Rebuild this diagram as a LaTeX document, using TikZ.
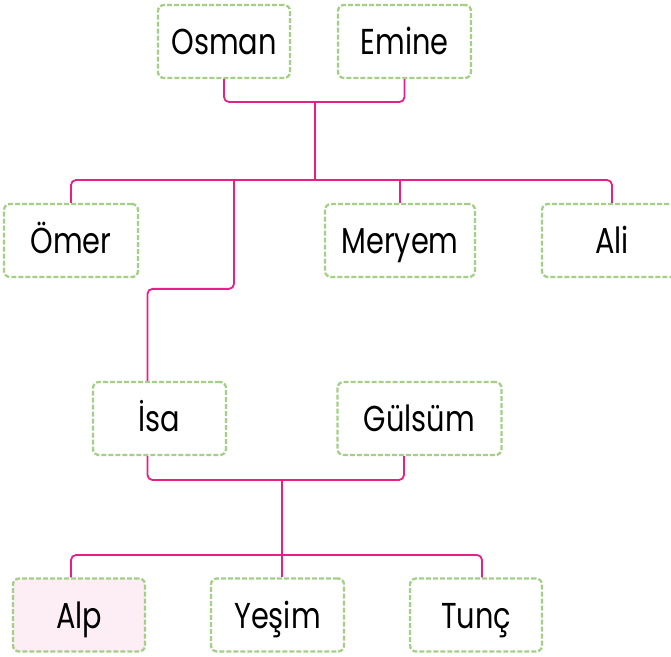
\documentclass[tikz,border=0pt]{standalone}
\usepackage{fontspec}
\setmainfont[FakeStretch=0.8]{Poppins}
\usepackage{tikz}
\usetikzlibrary{positioning}
\definecolor{linkpink}{RGB}{231,32,135}
\definecolor{boxgreen}{RGB}{165,206,135}
\definecolor{alpfill}{RGB}{253,237,245}
\tikzset{
  person/.style={draw=boxgreen, line width=2.3pt, dash pattern=on 5pt off 2pt,
    rounded corners=6pt, minimum height=73pt, inner sep=0pt,
    font=\fontsize{36}{40}\selectfont, text height=26pt, text depth=0pt},
  link/.style={draw=linkpink, line width=1.8pt, rounded corners=5pt}
}
\begin{document}
\begin{tikzpicture}[x=1pt,y=-1pt]
  \useasboundingbox (0,0) rectangle (671,656);
  \foreach \name/\x/\y/\w/\fc/\txt in {osman/224/41.5/132/white/Osman,
      emine/404.5/41.5/133/white/Emine,
      omer/71/240.5/134/white/Ömer, meryem/400/240.5/150/white/Meryem,
      ali/612/240.5/140/white/Ali,
      isa/159.5/418.5/133/white/İsa, gulsum/419.5/418.5/164/white/Gülsüm,
      alp/79/615/132/alpfill/Alp, yesim/277.5/615/133/white/Yeşim,
      tunc/476/615/132/white/Tunç}
    \node[person, minimum width=\w pt, fill=\fc] (\name) at (\x,\y) {\txt};
  \coordinate (top) at (315,102);
  \coordinate (row1) at (315,180);
  \coordinate (isaup) at (234,180);
  \coordinate (mid2) at (282,480);
  \coordinate (row3) at (282,555);
  \draw[link] (osman.south) |- (top) -| (emine.south);
  \draw[link] (top) -- (row1);
  \draw[link] (omer.north) |- (row1) -| (ali.north);
  \draw[link] (meryem.north) -- (meryem.north |- row1);
  \draw[link] ([xshift=-12pt]isa.north) -- ++(0,-92) -| (isaup);
  \draw[link] ([xshift=-12pt]isa.south) |- (mid2) -| ([xshift=-15.5pt]gulsum.south);
  \draw[link] (mid2) -- ([xshift=4.5pt]yesim.north);
  \draw[link] ([xshift=-8pt]alp.north) |- (row3) -| ([xshift=6pt]tunc.north);
\end{tikzpicture}
\end{document}
